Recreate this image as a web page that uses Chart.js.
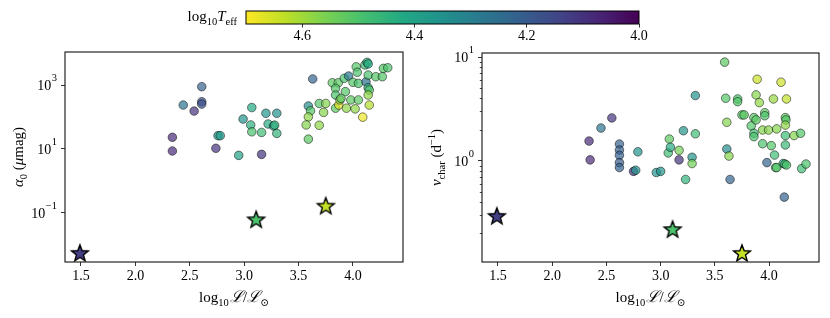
<!DOCTYPE html>
<html><head><meta charset="utf-8">
<script src="https://cdn.jsdelivr.net/npm/chart.js@4.4.1/dist/chart.umd.min.js"></script>
<style>
html,body{margin:0;padding:0;background:#fff;}
#wrap{position:relative;width:830px;height:318px;overflow:hidden;background:#fff;}
canvas{position:absolute;}
</style></head><body>
<div id="wrap">
<canvas id="cA" width="415" height="318" style="left:0;top:0"></canvas>
<canvas id="cN" width="415" height="318" style="left:415px;top:0"></canvas>
<canvas id="cB" width="500" height="50" style="left:150px;top:0"></canvas>
</div>
<script>
// ---------------- data ----------------
const lumA = [2.34,2.34,2.44,2.54,2.61,2.61,2.61,2.74,2.76,2.78,2.95,2.99,3.06,3.07,3.07,3.16,3.16,3.2,3.22,3.27,3.28,3.3,3.3,3.63,3.59,3.61,3.59,3.57,3.59,3.69,3.75,3.73,3.69,3.81,3.865,3.84,3.84,3.93,3.92,3.96,4.0,4.05,4.03,4.04,4.11,4.13,4.14,4.12,4.14,4.14,4.15,4.14,4.15,4.09,4.21,4.27,4.28,4.32,3.84,3.87,3.88,3.89,3.94,3.98,4.02,4.05];
const alphaA = [23.3,8.65,240,155,904,305,257,10.5,26.2,26.2,6.3,87,56.8,200,34.7,33.1,6.76,132,61,52.5,56,132,30.9,1580,224,158,102,56.8,20.4,269,269,141,55.5,1200,1200,804,495,631,1660,1950,1240,1150,3800,2570,4370,5250,4680,1290,2090,841,708,495,240,100,1860,1860,3390,3550,191,240,347,389,191,347,182,347];
const teffA = [4.08,4.08,4.27,4.1,4.21,4.17,4.17,4.1,4.37,4.37,4.4,4.35,4.44,4.42,4.5,4.48,4.1,4.36,4.43,4.4,4.45,4.36,4.45,4.22,4.33,4.51,4.58,4.57,4.52,4.51,4.57,4.57,4.58,4.52,4.52,4.51,4.5,4.51,4.5,4.28,4.51,4.5,4.51,4.5,4.48,4.44,4.43,4.25,4.5,4.43,4.51,4.58,4.62,4.68,4.51,4.51,4.51,4.5,4.52,4.67,4.58,4.52,4.58,4.52,4.58,4.52];

const lumN = [2.34,2.35,2.45,2.55,2.62,2.62,2.62,2.62,2.62,2.79,2.75,2.77,2.96,3.0,3.07,3.08,3.09,3.17,3.17,3.21,3.23,3.29,3.29,3.32,3.32,3.59,3.6,3.61,3.61,3.63,3.64,3.71,3.71,3.75,3.77,3.89,3.88,3.91,3.835,3.86,3.88,3.96,3.96,3.86,3.86,3.94,3.995,3.94,4.02,4.04,4.07,4.05,3.98,4.06,4.07,4.11,4.16,4.15,4.155,4.15,4.15,4.15,4.13,4.145,4.16,4.23,4.29,4.3,4.34,4.14];
const nuN = [1.55,1.02,2.07,2.59,1.45,1.27,1.13,0.96,0.86,1.22,0.79,0.81,0.77,0.79,1.19,1.62,1.35,1.26,1.02,1.95,0.66,1.08,0.94,4.26,1.82,8.95,4.01,2.35,1.3,1.11,0.66,3.95,3.72,2.77,2.77,6.12,4.32,3.64,2.17,2.61,2.48,2.91,2.72,1.84,1.71,1.98,1.98,1.46,1.4,3.95,2.03,1.135,0.96,0.86,0.86,5.73,3.95,2.61,2.48,2.21,1.75,1.42,0.94,0.93,0.91,1.75,1.84,0.84,0.93,0.446];
const teffN = [4.08,4.08,4.27,4.1,4.22,4.21,4.21,4.2,4.21,4.36,4.1,4.36,4.36,4.35,4.48,4.52,4.43,4.55,4.1,4.36,4.45,4.36,4.55,4.35,4.48,4.52,4.51,4.57,4.33,4.57,4.22,4.5,4.51,4.51,4.52,4.64,4.57,4.58,4.51,4.51,4.52,4.52,4.5,4.48,4.5,4.57,4.57,4.5,4.51,4.59,4.57,4.48,4.22,4.5,4.51,4.65,4.63,4.52,4.51,4.58,4.48,4.47,4.45,4.48,4.5,4.57,4.51,4.48,4.5,4.22];

const lumStar = [1.49,3.11,3.75];
const alphaStar = [0.0055,0.062,0.166];
const nuStar = [0.294,0.219,0.129];
const teffStar = [4.13,4.5,4.64];

const xTicks = [1.5,2.0,2.5,3.0,3.5,4.0];
const alphaTicks = [0.1,10,1000];
const nuTicks = [1,10];
const teffTicks = [4.6,4.4,4.2,4.0];
const teffRange = [4.0,4.7];

// ---------------- style helpers ----------------
const SERIF = "'Liberation Serif','DejaVu Serif','Times New Roman',serif";
const FT = 14;   // tick font
const FL = 15;   // label font
const FS = 10.5; // sub/superscript font
const VIR = [[68,1,84],[72,36,117],[65,68,135],[53,95,141],[42,120,142],[33,145,140],[34,168,132],[68,191,112],[122,209,81],[189,223,38],[253,231,37]];
function viridis(t){
  t = Math.min(1,Math.max(0,t));
  const n = VIR.length-1, i = Math.min(n-1,Math.floor(t*n)), f = t*n-i;
  return [0,1,2].map(k=>Math.round(VIR[i][k]+(VIR[i+1][k]-VIR[i][k])*f));
}
function teffColor(v,a){
  const c = viridis((v-teffRange[0])/(teffRange[1]-teffRange[0]));
  return `rgba(${c[0]},${c[1]},${c[2]},${a})`;
}
function starCanvas(color){
  const c = document.createElement('canvas'); c.width = c.height = 24;
  const g = c.getContext('2d'); const R = 8.8, r = R*0.42;
  g.beginPath();
  for(let i=0;i<10;i++){
    const rr = i%2 ? r : R, a = -Math.PI/2 + i*Math.PI/5;
    const x = 12 + rr*Math.cos(a), y = 12.8 + rr*Math.sin(a);
    i ? g.lineTo(x,y) : g.moveTo(x,y);
  }
  g.closePath(); g.fillStyle = color; g.fill();
  g.lineJoin = 'miter'; g.lineWidth = 1.4; g.strokeStyle = '#000'; g.stroke();
  return c;
}
function drawRich(ctx, parts, x, y, align, rotate){
  ctx.save();
  ctx.textBaseline = 'alphabetic';
  let w = 0;
  parts.forEach(p=>{ ctx.font = (p.it?'italic ':'')+p.s+'px '+SERIF; p.w = ctx.measureText(p.t).width; w += p.w; });
  ctx.translate(x,y);
  if(rotate) ctx.rotate(-Math.PI/2);
  let cx = align==='center' ? -w/2 : (align==='right' ? -w : 0);
  ctx.fillStyle = '#000';
  parts.forEach(p=>{ ctx.font = (p.it?'italic ':'')+p.s+'px '+SERIF; ctx.textAlign='left'; ctx.fillText(p.t, cx, (p.dy||0)); cx += p.w; });
  ctx.restore();
}
const xTitle = [{t:'log',s:FL},{t:'10',s:FS,dy:3.5},{t:' ',s:5},{t:'\u2112',s:FL+1,it:true},{t:'/',s:FL},{t:'\u2112',s:FL+1,it:true},{t:'\u2299',s:FS,dy:3.5}];

function panelPlugin(yParts, yTitleX, minor){
  return {
    id:'panel',
    afterDraw(chart){
      const ctx = chart.ctx, a = chart.chartArea, ys = chart.scales.y;
      ctx.save();
      ctx.strokeStyle = '#111'; ctx.lineWidth = 1.1;
      ctx.strokeRect(a.left, a.top, a.right-a.left, a.bottom-a.top);
      if(minor){
        ctx.lineWidth = 0.7; ctx.strokeStyle = '#000';
        for(let d=-2; d<=1; d++) for(let k=2;k<=9;k++){
          const v = k*Math.pow(10,d);
          if(v<ys.min || v>ys.max) continue;
          const py = Math.round(ys.getPixelForValue(v))+0.5;
          ctx.beginPath(); ctx.moveTo(a.left-2.2, py); ctx.lineTo(a.left, py); ctx.stroke();
        }
      }
      ys.ticks.forEach(tk=>{
        const py = ys.getPixelForValue(tk.value);
        const e = Math.round(Math.log10(tk.value));
        const es = e<0 ? '\u2212'+(-e) : String(e);
        ctx.font = FS+'px '+SERIF; const ew = ctx.measureText(es).width;
        const xr = a.left - 8;
        ctx.fillStyle = '#000'; ctx.textAlign = 'left'; ctx.textBaseline='alphabetic';
        ctx.fillText(es, xr-ew, py-4);
        ctx.font = FT+'px '+SERIF; ctx.textAlign = 'right';
        ctx.fillText('10', xr-ew-0.5, py+5);
      });
      ctx.restore();
      drawRich(ctx, xTitle, (a.left+a.right)/2, 302, 'center', false);
      drawRich(ctx, yParts, yTitleX, (a.top+a.bottom)/2, 'center', true);
    }
  };
}

function panel(id, lum, yv, teff, ystar, ymin, ymax, majors, pad, yw, yParts, yTitleX, minor){
  const pts = lum.map((x,i)=>({x:x, y:yv[i]}));
  const spts = lumStar.map((x,i)=>({x:x, y:ystar[i]}));
  const tickGrid = {display:true, drawOnChartArea:false, drawTicks:true, tickLength:4, tickColor:'#000', tickWidth:0.8};
  return new Chart(document.getElementById(id), {
    type:'scatter',
    data:{datasets:[
      {data:spts, pointStyle:teffStar.map(t=>starCanvas(teffColor(t,1))), pointRadius:9, pointHoverRadius:9},
      {data:pts, backgroundColor:teff.map(t=>teffColor(t,0.7)), borderColor:'rgba(0,0,0,0.7)', borderWidth:0.7, pointRadius:4.3, pointHoverRadius:4.3}
    ]},
    options:{
      responsive:false, animation:false, events:[],
      layout:{padding:pad},
      plugins:{legend:{display:false}, tooltip:{enabled:false}},
      scales:{
        x:{type:'linear', min:1.353, max:4.46, bounds:'data',
           afterBuildTicks:s=>{s.ticks = xTicks.map(v=>({value:v}));},
           afterFit:s=>{s.height = 56;},
           ticks:{autoSkip:false, maxRotation:0, padding:2, color:'#000', font:{family:SERIF, size:FT}, callback:v=>Number(v).toFixed(1)},
           grid:tickGrid, border:{display:false}},
        y:{type:'logarithmic', min:ymin, max:ymax, bounds:'data',
           afterBuildTicks:s=>{s.ticks = majors.map(v=>({value:v}));},
           afterFit:s=>{s.width = yw;},
           ticks:{autoSkip:false, callback:()=>'' , font:{family:SERIF,size:FT}},
           grid:tickGrid, border:{display:false}}
      }
    },
    plugins:[panelPlugin(yParts, yTitleX, minor)]
  });
}

panel('cA', lumA, alphaA, teffA, alphaStar, Math.pow(10,-2.548), Math.pow(10,4.045), alphaTicks,
  {left:0, top:52, right:12, bottom:0}, 65,
  [{t:'\u03b1',s:FL,it:true},{t:'0',s:FS,dy:3.5},{t:' (',s:FL},{t:'\u03bc',s:FL,it:true},{t:'mag)',s:FL}], 23, false);

panel('cN', lumN, nuN, teffN, nuStar, Math.pow(10,-0.977), Math.pow(10,1.04), nuTicks,
  {left:0, top:53, right:11, bottom:0}, 67,
  [{t:'\u03bd',s:FL,it:true},{t:'char',s:FS,dy:3.5},{t:' (d',s:FL},{t:'\u22121',s:FS,dy:-6},{t:')',s:FL}], 26, true);

// colorbar
new Chart(document.getElementById('cB'), {
  type:'scatter',
  data:{datasets:[{data:[]}]},
  options:{
    responsive:false, animation:false, events:[],
    layout:{padding:{left:96, right:11, top:11, bottom:0}},
    plugins:{legend:{display:false}, tooltip:{enabled:false}},
    scales:{
      x:{type:'linear', min:teffRange[0], max:teffRange[1], reverse:true, bounds:'data',
         afterBuildTicks:s=>{s.ticks = teffTicks.map(v=>({value:v}));},
         afterFit:s=>{s.height = 26;},
         ticks:{autoSkip:false, maxRotation:0, padding:0, color:'#000', font:{family:SERIF,size:FT}, callback:v=>Number(v).toFixed(1)},
         grid:{display:true, drawOnChartArea:false, drawTicks:true, tickLength:3.5, tickColor:'#000', tickWidth:0.8},
         border:{display:false}},
      y:{display:false, min:0, max:1}
    }
  },
  plugins:[{
    id:'cbar',
    beforeDatasetsDraw(chart){
      const ctx = chart.ctx, a = chart.chartArea, xs = chart.scales.x;
      const g = ctx.createLinearGradient(a.left,0,a.right,0);
      for(let i=0;i<=40;i++){
        const f = i/40, v = xs.getValueForPixel(a.left + f*(a.right-a.left));
        g.addColorStop(f, teffColor(v,1));
      }
      ctx.save();
      ctx.fillStyle = g; ctx.fillRect(a.left, a.top, a.right-a.left, a.bottom-a.top);
      ctx.strokeStyle = '#000'; ctx.lineWidth = 1;
      ctx.strokeRect(a.left, a.top, a.right-a.left, a.bottom-a.top);
      ctx.restore();
      drawRich(ctx, [{t:'log',s:FL},{t:'10',s:FS,dy:3.5},{t:'T',s:FL,it:true},{t:'eff',s:FS,dy:3.5}], a.left-9, 21, 'right', false);
    }
  }]
});
</script>
</body></html>
